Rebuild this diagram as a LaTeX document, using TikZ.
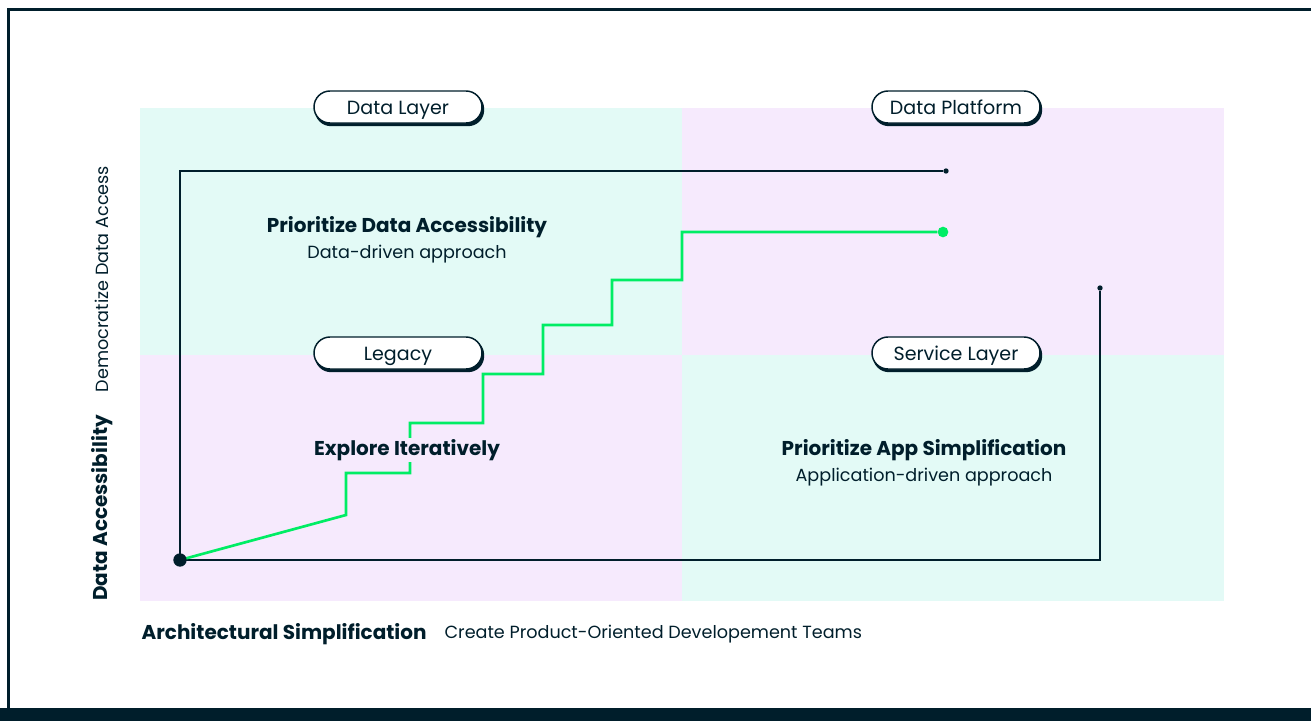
\documentclass[tikz,border=0pt]{standalone}
\usepackage{fontspec}
\setmainfont{Poppins}
\usetikzlibrary{positioning}
\definecolor{ink}{HTML}{001E2B}
\definecolor{mint}{HTML}{E3FAF6}
\definecolor{lilac}{HTML}{F6EAFD}
\definecolor{leaf}{HTML}{00ED64}
\tikzset{x=0.75pt, y=-0.75pt, node distance = 3pt,
  pill/.style={draw=ink, line width=1.1pt, fill=white, rounded corners=12pt,
    minimum width=126pt, minimum height=24pt, text height=1.2em, text depth=0.15em,
    font=\fontsize{14.3}{16}\selectfont, text=ink},
  pillshadow/.style={fill=ink, rounded corners=12pt, minimum width=127pt, minimum height=25pt},
  title/.style={font=\fontsize{15}{17}\selectfont\bfseries, text=ink, inner sep=1pt},
  sub/.style={font=\fontsize{13.2}{15}\selectfont, text=ink, inner sep=1pt},
  axis/.style={draw=ink, line width=1pt},
  stair/.style={draw=leaf, line width=2pt},
  dot/.style={circle, fill=ink, inner sep=0pt, minimum size=5pt}}

\begin{document}
\begin{tikzpicture}
    \useasboundingbox (0,0) rectangle (1311,721);
    % frame
    \fill[ink] (0,708) rectangle (1311,721);
    \draw[ink, line width=2.2pt] (8.5,709) -- (8.5,9.5) -- (1311,9.5);
    % quadrants
    \fill[mint] (140,108) rectangle (682,355);
    \fill[lilac] (682,108) rectangle (1224,355);
    \fill[lilac] (140,355) rectangle (682,601);
    \fill[mint] (682,355) rectangle (1224,601);

    \coordinate (o) at (180,560);
    \coordinate (tl) at (180,171);
    \coordinate (br) at (1100,560);
    \node[dot, minimum size=4pt] (da) at (946,171) {};
    \node[dot, minimum size=4pt] (ds) at (1100,288) {};
    \node[circle, fill=leaf, inner sep=0pt, minimum size=8pt] (dg) at (943,232) {};

    \draw[axis] (da) -- (tl) -- (o) -- (br) -- (ds);
    \draw[stair] (o) -- (346,515) |- (410,473) |- (483,423) |- (543,374)
        |- (612,325) |- (682,280) |- (dg);
    \node[dot, minimum size=10pt] (origin) at (o) {};

    % quadrant pills
    \foreach \name/\x/\y/\txt in {dl/398/107/Data Layer, dp/956/107/Data Platform,
                                  lg/398/353/Legacy, sl/956/353/Service Layer} {
        \node[pillshadow] at (\x+1.5,\y+2.5) {};
        \node[pill] (\name) at (\x,\y) {\txt};
    }

    \node[title] (t1) at (407,227) {Prioritize Data Accessibility};
    \node[sub, below=of t1] (s1) {Data-driven approach};
    \node[title, fill=lilac] (t2) at (407,450) {Explore Iteratively};
    \node[title] (t3) at (924,450) {Prioritize App Simplification};
    \node[sub, below=of t3] (s3) {Application-driven approach};

    % axis labels
    \node[title, anchor=west] (xa) at (140,634) {Architectural Simplification};
    \node[sub, anchor=west] (xb) at (443,634) {Create Product-Oriented Developement Teams};
    \node[title, rotate=90] (ya) at (102,508) {Data Accessibility};
    \node[sub, rotate=90] (yb) at (102,279) {Democratize Data Access};
\end{tikzpicture}
\end{document}
